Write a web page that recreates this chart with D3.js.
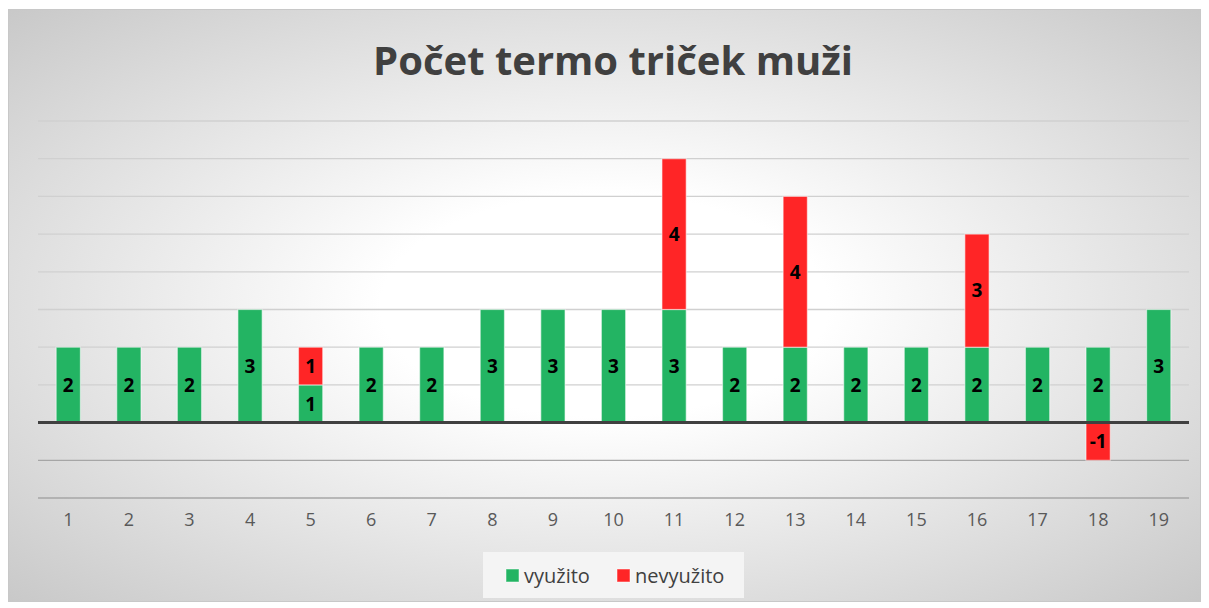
<!DOCTYPE html>
<meta charset="utf-8">
<style>
body { margin: 0; background: #fff; }
svg text { font-family: "Open Sans", "Noto Sans", sans-serif; }
.axis text { font-size: 18px; fill: #595959; }
.axis path, .axis line { display: none; }
</style>
<svg width="1209" height="608" id="chart"></svg>
<script src="https://cdn.jsdelivr.net/npm/d3@7"></script>
<script>
var categories = ["1","2","3","4","5","6","7","8","9","10","11","12","13","14","15","16","17","18","19"];
var vyuzito   = [2,2,2,3,1,2,2,3,3,3,3,2,2,2,2,2,2,2,3];
var nevyuzito = [0,0,0,0,1,0,0,0,0,0,4,0,4,0,0,3,0,-1,0];
var yTicks = [-2,-1,0,1,2,3,4,5,6,7,8];

var svg = d3.select("#chart"),
    width = +svg.attr("width"),
    height = +svg.attr("height");

// background with radial gradient
var defs = svg.append("defs");
var grad = defs.append("radialGradient")
    .attr("id", "bg")
    .attr("cx", "50%").attr("cy", "50%").attr("r", "75%");
grad.append("stop").attr("offset", "0%").attr("stop-color", "#ffffff");
grad.append("stop").attr("offset", "25%").attr("stop-color", "#ffffff");
grad.append("stop").attr("offset", "100%").attr("stop-color", "#c4c4c4");

svg.append("rect")
    .attr("x", 8.5).attr("y", 9.5)
    .attr("width", 1192).attr("height", 592)
    .attr("fill", "url(#bg)")
    .attr("stroke", "#c8c8c8");

var x = d3.scaleBand()
    .domain(categories)
    .range([38, 1189])
    .paddingInner(0.6)
    .paddingOuter(0.3);

var y = d3.scaleLinear()
    .domain([-2, 8])
    .range([498, 121]);

// gridlines
svg.append("g")
  .selectAll("line")
  .data(yTicks.filter(d => d != 0))
  .enter().append("line")
    .attr("x1", 38).attr("x2", 1189)
    .attr("y1", d => y(d)).attr("y2", d => y(d))
    .attr("stroke", d => d < 0 ? "#a6a6a6" : "#d0d0d0")
    .attr("stroke-width", 1.3);

// stacked segments
var segs = [];
categories.forEach(function(c, i) {
  var g = vyuzito[i], r = nevyuzito[i];
  segs.push({cat: c, y0: 0, y1: g, v: g, color: "#23b463"});
  if (r > 0) segs.push({cat: c, y0: g, y1: g + r, v: r, color: "#ff2526"});
  else if (r < 0) segs.push({cat: c, y0: r, y1: 0, v: r, color: "#ff2526"});
});

svg.append("g")
  .selectAll("rect")
  .data(segs)
  .enter().append("rect")
    .attr("x", d => x(d.cat))
    .attr("width", x.bandwidth())
    .attr("y", d => y(d.y1))
    .attr("height", d => y(d.y0) - y(d.y1))
    .attr("fill", d => d.color)
    .attr("stroke", "rgba(255,255,255,0.5)")
    .attr("stroke-width", 1.2);

// zero line
svg.append("line")
    .attr("x1", 38).attr("x2", 1189)
    .attr("y1", y(0)).attr("y2", y(0))
    .attr("stroke", "#404040")
    .attr("stroke-width", 3);

// data labels
svg.append("g")
  .selectAll("text")
  .data(segs)
  .enter().append("text")
    .attr("x", d => x(d.cat) + x.bandwidth() / 2)
    .attr("y", d => (y(d.y0) + y(d.y1)) / 2)
    .attr("dy", "0.36em")
    .attr("text-anchor", "middle")
    .attr("font-size", 19)
    .attr("font-weight", "bold")
    .attr("fill", "#000")
    .text(d => d.v);

// x axis
svg.append("g")
    .attr("class", "axis")
    .attr("transform", "translate(0,513)")
    .call(d3.axisBottom(x).tickSize(0).tickPadding(0))
  .selectAll("text")
    .attr("dy", "0.71em");

// title
svg.append("text")
    .attr("x", 613).attr("y", 75)
    .attr("text-anchor", "middle")
    .attr("font-size", 40)
    .attr("font-weight", "bold")
    .attr("fill", "#404040")
    .text("Počet termo triček muži");

// legend
var legend = svg.append("g");
legend.append("rect")
    .attr("x", 483).attr("y", 552)
    .attr("width", 261).attr("height", 46)
    .attr("fill", "#f4f4f4");
var items = [{name: "využito", color: "#23b463", x: 506}, {name: "nevyužito", color: "#ff2526", x: 617}];
items.forEach(function(it) {
  legend.append("rect")
      .attr("x", it.x).attr("y", 569)
      .attr("width", 13).attr("height", 13)
      .attr("fill", it.color)
      .attr("stroke", "rgba(255,255,255,0.5)");
  legend.append("text")
      .attr("x", it.x + 18).attr("y", 583)
      .attr("font-size", 20)
      .attr("fill", "#404040")
      .text(it.name);
});
</script>
